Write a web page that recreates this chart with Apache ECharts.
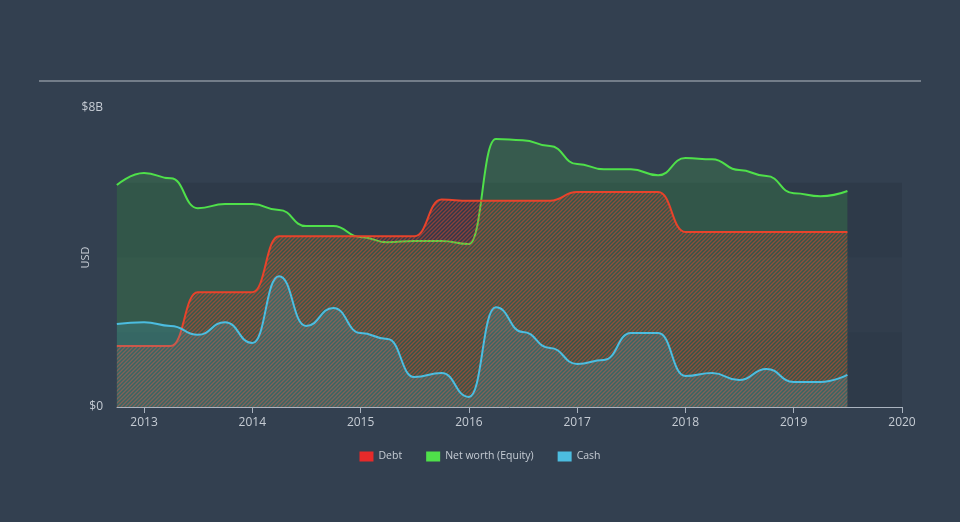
<!DOCTYPE html>
<html>
<head>
<meta charset="utf-8">
<script src="https://cdn.jsdelivr.net/npm/echarts@6/dist/echarts.min.js"></script>
<style>
html,body{margin:0;padding:0;background:#334050;}
#chart{width:960px;height:522px;}
</style>
</head>
<body>
<div id="chart"></div>
<script>
// Quarter-end dates
const dates = ['2012-09-30','2012-12-31','2013-03-31','2013-06-30','2013-09-30','2013-12-31','2014-03-31','2014-06-30',
  '2014-09-30','2014-12-31','2015-03-31','2015-06-30','2015-09-30','2015-12-31','2016-03-31','2016-06-30',
  '2016-09-30','2016-12-31','2017-03-31','2017-06-30','2017-09-30','2017-12-31','2018-03-31','2018-06-30',
  '2018-09-30','2018-12-31','2019-03-31','2019-06-30'];
// values in $B
const debt = [1.63,1.63,1.63,3.07,3.07,3.07,4.57,4.57,4.57,4.57,4.57,4.57,5.55,5.52,5.52,5.52,5.52,5.75,5.75,5.75,5.75,4.68,4.68,4.68,4.68,4.68,4.68,4.68];
const netWorth = [5.94,6.26,6.12,5.32,5.43,5.43,5.27,4.84,4.84,4.55,4.41,4.44,4.44,4.36,7.17,7.14,6.98,6.50,6.36,6.36,6.20,6.66,6.63,6.34,6.18,5.72,5.64,5.78];
const cash = [2.22,2.27,2.17,1.93,2.27,1.71,3.50,2.17,2.65,1.98,1.82,0.80,0.91,0.27,2.67,2.01,1.58,1.15,1.26,1.98,1.98,0.83,0.91,0.72,1.02,0.67,0.67,0.86];
const yearTicks = [2013,2014,2015,2016,2017,2018,2019,2020];

function toYear(s){
  const d = new Date(s + 'T00:00:00Z');
  const y = d.getUTCFullYear();
  const start = Date.UTC(y,0,1), end = Date.UTC(y+1,0,1);
  return y + (d.getTime() + 86400000 - start) / (end - start);
}
const xs = dates.map(toYear);
const pair = arr => arr.map((v,i)=>[xs[i], v]);

function hatch(color){
  const c = document.createElement('canvas');
  c.width = 4; c.height = 4;
  const ctx = c.getContext('2d');
  ctx.strokeStyle = color;
  ctx.lineWidth = 1.4;
  ctx.beginPath();
  ctx.moveTo(-1,5); ctx.lineTo(5,-1);
  ctx.moveTo(-1,1); ctx.lineTo(1,-1);
  ctx.moveTo(3,5); ctx.lineTo(5,3);
  ctx.stroke();
  return {image: c, repeat: 'repeat'};
}

const chart = echarts.init(document.getElementById('chart'), null, {renderer:'canvas'});
const txt = '#c6ccd4';
chart.setOption({
  backgroundColor: '#334050',
  animation: false,
  grid: {left:117, right:58, top:108, bottom:115},
  graphic: [{type:'line', shape:{x1:39,y1:81,x2:921,y2:81}, style:{stroke:'#b4bac2', lineWidth:1.2}}],
  legend: {
    bottom: 55, left: 'center', icon: 'rect', itemWidth: 14, itemHeight: 10, itemGap: 24,
    textStyle: {color: txt, fontSize: 10.5, fontFamily: 'Open Sans'},
    data: ['Debt','Net worth (Equity)','Cash']
  },
  xAxis: {
    type: 'value', min: 2012.75, max: 2020,
    axisLine: {show:true, lineStyle:{color:'#aab3bf', width:1}},
    axisTick: {show:true, length:6, lineStyle:{color:'#aab3bf'}, customValues: yearTicks},
    axisLabel: {color: txt, fontSize: 12, margin: 10, fontFamily: 'Open Sans', customValues: yearTicks,
      formatter: v => String(Math.round(v))},
    splitLine: {show:false}
  },
  yAxis: {
    type: 'value', min: 0, max: 8, interval: 2,
    name: 'USD', nameLocation: 'middle', nameGap: 26, nameRotate: 90, nameMoveOverlap: false,
    nameTextStyle: {color: txt, fontSize: 11, fontFamily: 'Open Sans'},
    axisLine: {show:false}, axisTick: {show:false},
    axisLabel: {color: txt, fontSize: 12, margin: 14, fontFamily: 'Open Sans',
      formatter: v => v === 0 ? '$0' : (v === 8 ? '$8B' : '')},
    splitLine: {show:false},
    splitArea: {show:true, areaStyle:{color:['#2e3a49','#313d4c','#2e3a49','rgba(0,0,0,0)']}}
  },
  series: [
    {name:'Net worth (Equity)', type:'line', data: pair(netWorth), smooth:0.5, smoothMonotone:'x', symbol:'none',
      lineStyle:{color:'#4fe04a', width:2}, itemStyle:{color:'#4fe04a'},
      areaStyle:{color:'rgba(76,220,76,0.25)'}, z:2},
    {name:'Debt', type:'line', data: pair(debt), smooth:0.5, smoothMonotone:'x', symbol:'none',
      lineStyle:{color:'#e8432b', width:2}, itemStyle:{color:'#e62a2a'},
      areaStyle:{color: hatch('rgba(236,70,45,0.7)')}, z:3},
    {name:'Cash', type:'line', data: pair(cash), smooth:0.5, smoothMonotone:'x', symbol:'none',
      lineStyle:{color:'#4cbde0', width:2}, itemStyle:{color:'#4cbde0'},
      areaStyle:{color:'rgba(76,189,224,0.25)'}, z:4}
  ]
});
</script>
</body>
</html>
